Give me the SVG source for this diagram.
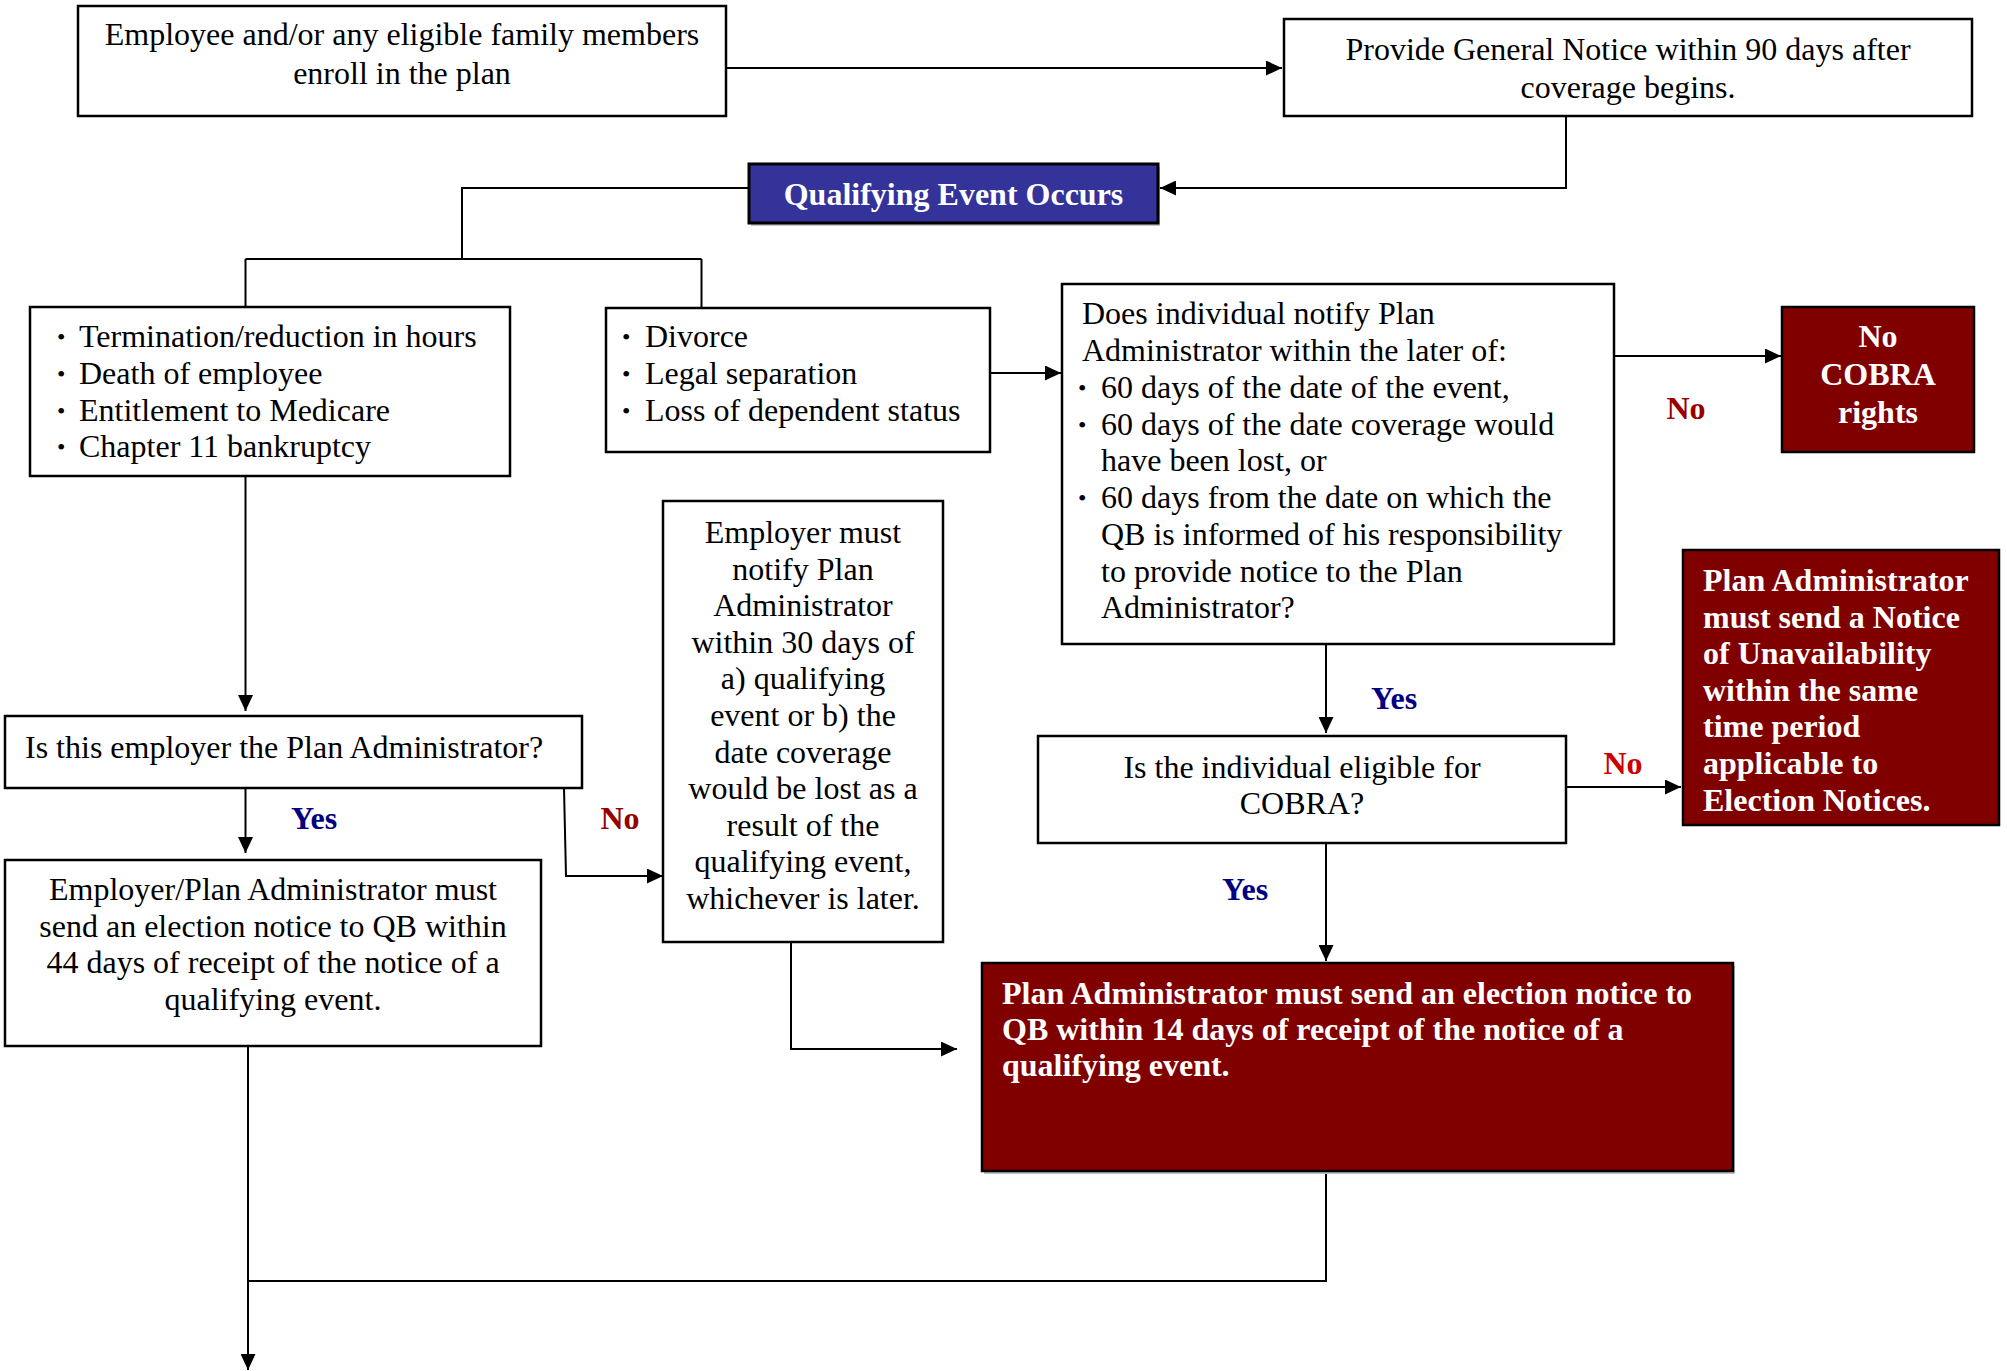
<svg xmlns="http://www.w3.org/2000/svg" width="2007" height="1371" viewBox="0 0 2007 1371">
<defs>
<marker id="ah" markerUnits="userSpaceOnUse" markerWidth="17" markerHeight="15" refX="16" refY="7.5" orient="auto">
<path d="M0,0 L16,7.5 L0,15 Z" fill="#000"/>
</marker>
<style>
text{font-family:"Liberation Serif","Times New Roman",serif;font-size:32px;fill:#000}
.c{text-anchor:middle}
.w{fill:#fff;font-weight:bold}
.bul{font-size:24px}
.box{fill:#fff;stroke:#000;stroke-width:2.5}
.red{fill:#800000;stroke:#000;stroke-width:2.5}
.blue{fill:#333399;stroke:#000;stroke-width:3}
.yes{fill:#000080;font-weight:bold}
.no{fill:#990000;font-weight:bold}
.no2{fill:#cc0000;font-weight:bold}
.ln{fill:none;stroke:#000;stroke-width:2}
</style>
</defs>
<rect width="2007" height="1371" fill="#fff"/>

<g id="connectors">
<path class="ln" d="M726,68 H1282" marker-end="url(#ah)"/>
<path class="ln" d="M1566,116 V188 H1160" marker-end="url(#ah)"/>
<path class="ln" d="M749,188 H462 V259"/>
<path class="ln" d="M245.5,259 H701.5 M245.5,259 V307 M701.5,259 V307"/>
<path class="ln" d="M245.5,476 V711" marker-end="url(#ah)"/>
<path class="ln" d="M990,373 H1061" marker-end="url(#ah)"/>
<path class="ln" d="M1614,356 H1781" marker-end="url(#ah)"/>
<path class="ln" d="M1326,644 V733" marker-end="url(#ah)"/>
<path class="ln" d="M1566,787 H1681" marker-end="url(#ah)"/>
<path class="ln" d="M1326,843 V961" marker-end="url(#ah)"/>
<path class="ln" d="M245.5,788 V853" marker-end="url(#ah)"/>
<path class="ln" d="M564,788 L566,876 H663" marker-end="url(#ah)"/>
<path class="ln" d="M791,942 V1049 H957" marker-end="url(#ah)"/>
<path class="ln" d="M248,1046 V1370" marker-end="url(#ah)"/>
<path class="ln" d="M1326,1171 V1281 H248"/>
</g>

<g id="enroll">
<rect class="box" x="78" y="6" width="648" height="110"/>
<text class="c" x="402" y="45">Employee and/or any eligible family members</text>
<text class="c" x="402" y="84">enroll in the plan</text>
</g>

<g id="general-notice">
<rect class="box" x="1284" y="19" width="688" height="97"/>
<text class="c" x="1628" y="60">Provide General Notice within 90 days after</text>
<text class="c" x="1628" y="98">coverage begins.</text>
</g>

<g id="qualifying-event">
<rect x="751" y="167" width="409" height="59" fill="#c8c8c8"/>
<rect class="blue" x="749" y="164" width="409" height="59"/>
<text class="c w" x="953.5" y="205">Qualifying Event Occurs</text>
</g>

<g id="employee-events">
<rect class="box" x="30" y="307" width="480" height="169"/>
<text class="bul" x="57" y="345">•</text><text x="79" y="347">Termination/reduction in hours</text>
<text class="bul" x="57" y="382">•</text><text x="79" y="384">Death of employee</text>
<text class="bul" x="57" y="419">•</text><text x="79" y="421">Entitlement to Medicare</text>
<text class="bul" x="57" y="455">•</text><text x="79" y="457">Chapter 11 bankruptcy</text>
</g>

<g id="dependent-events">
<rect class="box" x="606" y="308" width="384" height="144"/>
<text class="bul" x="622" y="345">•</text><text x="645" y="347">Divorce</text>
<text class="bul" x="622" y="382">•</text><text x="645" y="384">Legal separation</text>
<text class="bul" x="622" y="419">•</text><text x="645" y="421">Loss of dependent status</text>
</g>

<g id="individual-notify">
<rect class="box" x="1062" y="284" width="552" height="360"/>
<text x="1082" y="324">Does individual notify Plan</text>
<text x="1082" y="361">Administrator within the later of:</text>
<text class="bul" x="1078" y="396">•</text><text x="1101" y="398">60 days of the date of the event,</text>
<text class="bul" x="1078" y="433">•</text><text x="1101" y="435">60 days of the date coverage would</text>
<text x="1101" y="471">have been lost, or</text>
<text class="bul" x="1078" y="506">•</text><text x="1101" y="508">60 days from the date on which the</text>
<text x="1101" y="545">QB is informed of his responsibility</text>
<text x="1101" y="582">to provide notice to the Plan</text>
<text x="1101" y="618">Administrator?</text>
</g>

<g id="no-cobra">
<rect class="red" x="1782" y="307" width="192" height="145"/>
<text class="c w" x="1878" y="347">No</text>
<text class="c w" x="1878" y="385">COBRA</text>
<text class="c w" x="1878" y="423">rights</text>
</g>

<g id="employer-pa">
<rect class="box" x="5" y="716" width="577" height="72"/>
<text x="25" y="758">Is this employer the Plan Administrator?</text>
</g>

<g id="employer-notify">
<rect class="box" x="663" y="501" width="280" height="441"/>
<text class="c" x="803" y="543">Employer must</text>
<text class="c" x="803" y="580">notify Plan</text>
<text class="c" x="803" y="616">Administrator</text>
<text class="c" x="803" y="653">within 30 days of</text>
<text class="c" x="803" y="689">a) qualifying</text>
<text class="c" x="803" y="726">event or b) the</text>
<text class="c" x="803" y="763">date coverage</text>
<text class="c" x="803" y="799">would be lost as a</text>
<text class="c" x="803" y="836">result of the</text>
<text class="c" x="803" y="872">qualifying event,</text>
<text class="c" x="803" y="909">whichever is later.</text>
</g>

<g id="employer-election">
<rect class="box" x="5" y="860" width="536" height="186"/>
<text class="c" x="273" y="900">Employer/Plan Administrator must</text>
<text class="c" x="273" y="937">send an election notice to QB within</text>
<text class="c" x="273" y="973">44 days of receipt of the notice of a</text>
<text class="c" x="273" y="1010">qualifying event.</text>
</g>

<g id="eligible">
<rect class="box" x="1038" y="736" width="528" height="107"/>
<text class="c" x="1302" y="778">Is the individual eligible for</text>
<text class="c" x="1302" y="814">COBRA?</text>
</g>

<g id="unavailability">
<rect class="red" x="1683" y="550" width="316" height="275"/>
<text class="w" x="1703" y="591">Plan Administrator</text>
<text class="w" x="1703" y="628">must send a Notice</text>
<text class="w" x="1703" y="664">of Unavailability</text>
<text class="w" x="1703" y="701">within the same</text>
<text class="w" x="1703" y="737">time period</text>
<text class="w" x="1703" y="774">applicable to</text>
<text class="w" x="1703" y="811">Election Notices.</text>
</g>

<g id="pa-election">
<rect x="984" y="966" width="751" height="208" fill="#c0c0c0"/>
<rect class="red" x="982" y="963" width="751" height="208"/>
<text class="w" x="1002" y="1004">Plan Administrator must send an election notice to</text>
<text class="w" x="1002" y="1040">QB within 14 days of receipt of the notice of a</text>
<text class="w" x="1002" y="1076">qualifying event.</text>
</g>

<g id="labels">
<text class="c yes" x="314" y="829">Yes</text>
<text class="c no" x="620" y="829">No</text>
<text class="c yes" x="1394" y="709">Yes</text>
<text class="c yes" x="1245" y="900">Yes</text>
<text class="c no2" x="1623" y="774">No</text>
<text class="c no" x="1686" y="419">No</text>
</g>
</svg>
